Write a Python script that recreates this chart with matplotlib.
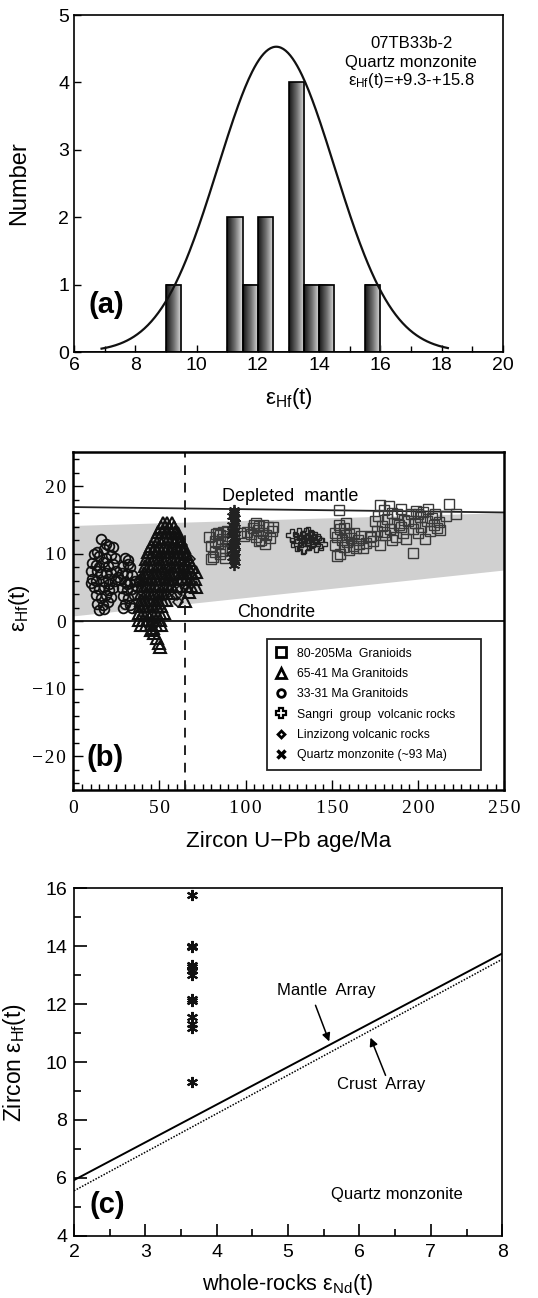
import numpy as np
import matplotlib
matplotlib.use('Agg')
import matplotlib.pyplot as plt
from matplotlib.colors import LinearSegmentedColormap
from matplotlib.lines import Line2D
from matplotlib.ticker import MultipleLocator, FuncFormatter

plt.rcParams['font.family'] = ['Liberation Sans', 'DejaVu Sans']
plt.rcParams['mathtext.fontset'] = 'custom'
plt.rcParams['mathtext.rm'] = 'Liberation Sans'
plt.rcParams['mathtext.it'] = 'Liberation Sans:italic'
plt.rcParams['mathtext.bf'] = 'Liberation Sans:bold'

# ---- data ----
# zircon eHf(t) of quartz monzonite 07TB33b-2 (panel a histogram and panel c)
eps_hf = [9.32, 11.18, 11.33, 11.56, 12.12, 12.18, 13.0, 13.18, 13.3, 13.35,
          13.98, 14.02, 15.77]
fit_mu, fit_sigma, fit_peak = 12.6, 1.9, 4.53
fit_range = (6.9, 18.2)

# panel b: (age Ma, eHf)
granioids_80_205 = [
    (79, 12.4), (80, 11.2), (81, 9.5), (82, 10.2), (83, 12.9), (84, 11.6), (85, 9.9),
    (86, 12.2), (87, 13.2), (88, 10.8), (89, 11.9), (90, 12.6), (91, 10.5), (84, 13.0),
    (82, 11.8), (86, 10.4), (88, 9.3), (80, 9.2), (85, 12.7), (89, 13.3),
    (97, 13.0), (99, 12.6), (101, 13.2), (103, 12.9), (104, 13.8), (105, 14.3),
    (106, 12.4), (107, 13.5), (108, 14.1), (109, 12.0), (110, 13.1), (111, 11.5),
    (112, 12.7), (113, 13.9), (114, 12.3), (115, 13.4), (116, 14.0), (108, 11.9),
    (106, 14.5), (110, 14.2),
    (152, 13.1), (152, 11.3), (153, 12.5), (154, 16.4), (154, 14.3), (155, 10.0),
    (155, 13.6), (156, 12.0), (157, 11.0), (158, 12.8), (158, 14.6), (159, 11.7),
    (160, 10.6), (161, 12.3), (162, 11.2), (163, 13.0), (164, 10.8), (165, 12.0),
    (166, 11.4), (167, 12.6), (168, 10.9), (170, 11.6), (172, 12.4), (174, 11.9),
    (153, 9.6), (160, 12.9), (157, 13.8),
    (173, 12.6), (175, 14.8), (176, 13.4), (177, 15.6), (178, 17.2), (178, 11.3),
    (179, 14.1), (180, 16.4), (181, 12.8), (182, 15.2), (183, 17.0), (184, 13.7),
    (185, 16.0), (186, 14.5), (187, 12.4), (188, 15.8), (189, 14.2), (190, 16.6),
    (191, 13.1), (192, 15.0), (193, 12.2), (194, 14.8), (197, 10.1), (196, 15.9),
    (197, 13.6), (198, 14.6), (199, 16.3), (200, 13.0), (201, 15.4), (202, 14.0),
    (203, 16.1), (204, 12.1), (205, 14.9), (206, 16.6), (207, 13.4), (208, 15.3),
    (209, 14.3), (210, 15.8), (211, 13.8), (212, 14.7), (213, 13.5), (218, 17.4),
    (216, 15.5), (180, 13.2), (185, 12.0), (190, 14.0), (200, 15.9), (222, 15.8),
]

granitoids_65_41 = [
    (52, 14.6), (54.5, 14.6), (57, 14.6),
    (51, 14.0), (53, 14.0), (55.5, 14.0), (58.5, 14.0),
    (49, 13.2), (51.5, 13.2), (54, 13.2), (56.5, 13.2), (59, 13.2), (60.5, 13.0),
    (47.5, 12.2), (50, 12.2), (52.5, 12.2), (55, 12.2), (57.5, 12.2), (60, 12.2), (62, 12.0),
    (45, 11.2), (47.5, 11.2), (50, 11.2), (52.5, 11.2), (55, 11.2), (57.5, 11.2),
    (60, 11.2), (62.5, 11.2), (64, 11.0),
    (43.5, 10.2), (46, 10.2), (48.5, 10.2), (51, 10.2), (53.5, 10.2), (56, 10.2),
    (58.5, 10.2), (61, 10.2), (63.5, 10.2), (65.5, 10.0),
    (42, 9.2), (44.5, 9.2), (47, 9.2), (49.5, 9.2), (52, 9.2), (54.5, 9.2), (57, 9.2),
    (59.5, 9.2), (62, 9.2), (64.5, 9.2), (67, 9.0),
    (41.5, 8.2), (44, 8.2), (46.5, 8.2), (49, 8.2), (51.5, 8.2), (54, 8.2), (56.5, 8.2),
    (59, 8.2), (61.5, 8.2), (64, 8.2), (66.5, 8.2), (69, 8.0),
    (41, 7.2), (43.5, 7.2), (46, 7.2), (48.5, 7.2), (51, 7.2), (53.5, 7.2), (56, 7.2),
    (58.5, 7.2), (61, 7.2), (63.5, 7.2), (66, 7.2), (68.5, 7.2), (71, 7.3),
    (40.5, 6.2), (43, 6.2), (45.5, 6.2), (48, 6.2), (50.5, 6.2), (53, 6.2), (55.5, 6.2),
    (58, 6.2), (60.5, 6.2), (63, 6.2), (65.5, 6.2), (68, 6.2), (70.5, 6.2),
    (40, 5.2), (42.5, 5.2), (45, 5.2), (47.5, 5.2), (50, 5.2), (52.5, 5.2), (55, 5.2),
    (57.5, 5.2), (60, 5.2), (66, 5.2), (68.5, 5.2), (71, 5.0),
    (39.5, 4.2), (42, 4.2), (44.5, 4.2), (47, 4.2), (49.5, 4.2), (52, 4.2), (54.5, 4.2),
    (57, 4.2), (67, 4.3),
    (39, 3.2), (41.5, 3.2), (44, 3.2), (46.5, 3.2), (49, 3.2), (51.5, 3.2), (54, 3.2),
    (65, 3.0),
    (38.5, 2.2), (41, 2.2), (43.5, 2.2), (46, 2.2), (48.5, 2.2), (51, 2.2),
    (38, 1.2), (40.5, 1.2), (43, 1.2), (45.5, 1.2), (48, 1.2), (50.5, 1.2), (52.5, 1.2),
    (38, 0.2), (40.5, 0.2), (43, 0.2), (45.5, 0.2), (48, 0.2), (50.5, 0.2),
    (39, -0.6), (42, -0.6), (45, -0.6), (48, -0.6), (51, -0.6),
    (45, -1.3), (47, -1.8), (48.5, -2.5), (49.5, -3.2), (50.5, -3.9), (46.5, -1.0),
]

granitoids_33_31 = [
    (16, 12.2), (14, 10.3), (18, 10.7), (21, 11.2), (23, 11.0), (12, 9.9), (15, 9.6),
    (19, 9.3), (22, 9.8), (24, 9.4), (11, 8.6), (13, 8.3), (17, 8.7), (20, 8.1),
    (23, 8.4), (10, 7.4), (14, 7.5), (16, 7.0), (19, 7.2), (22, 7.1), (25, 7.5),
    (11, 6.2), (13, 5.9), (17, 6.0), (20, 6.3), (24, 5.9), (12, 5.0), (15, 4.7),
    (18, 5.1), (21, 4.6), (23, 4.9), (13, 3.8), (16, 3.5), (19, 3.9), (22, 3.6),
    (14, 2.6), (17, 2.4), (20, 2.8), (15, 1.6), (18, 1.8), (26, 6.6), (10, 5.6),
    (19, 11.5), (15, 8.0), (21, 5.5),
    (30, 9.4), (32, 9.0), (29, 8.2), (33, 8.0), (28, 7.2), (31, 7.0), (34, 6.8),
    (27, 6.1), (30, 5.8), (33, 5.6), (36, 6.0), (38, 5.9), (28, 4.9), (31, 4.6),
    (34, 4.8), (37, 5.0), (29, 3.7), (32, 3.4), (35, 3.8), (30, 2.6), (33, 2.4),
    (29, 1.9), (34, 2.0), (32, 8.5), (31, 5.5), (39, 6.3),
]

sangri_volcanics = [
    (127, 12.7), (129, 12.0), (130, 11.3), (131, 12.9), (132, 11.8), (133, 12.4),
    (134, 11.0), (135, 12.9), (136, 12.1), (137, 11.5), (138, 12.6), (139, 11.9),
    (140, 12.3), (141, 11.2), (142, 12.0), (144, 11.4), (136, 13.1), (133, 10.8),
]

linzizong_volcanics = [
    (60, 3.9), (62, 4.6), (64, 8.0), (58, 5.6), (55, 7.8), (50, 9.5), (63, 11.3),
    (66, 6.0), (57, 10.2), (61, 2.9), (52, 6.2), (68, 9.2), (59, 12.1), (54, 3.8),
]

quartz_monzonite_b = [
    (93, 16.5), (93, 15.9), (94, 15.3), (93, 14.8), (92, 14.3), (93, 13.9), (94, 13.5),
    (93, 13.1), (92, 12.7), (93, 12.3), (94, 11.9), (93, 11.5), (92, 11.1), (93, 10.7),
    (94, 10.3), (93, 9.9), (92, 9.5), (93, 9.1), (94, 8.7), (93, 8.3), (93, 16.1),
    (94, 14.6), (92, 13.3), (94, 12.5), (92, 10.5), (93, 9.4), (94, 11.2), (92, 15.6),
]

depleted_mantle = ([0, 250], [16.9, 16.1])
crust_band = ([0, 250, 250, 0], [14.1, 16.0, 7.5, 0.7])
boundary_age = 65

# panel c
wr_end = 3.66
mantle_array = ([2, 8], [5.92, 13.75])
crust_array = ([2, 8], [5.55, 13.55])

EHF = 'ε$_{\\mathrm{Hf}}$(t)'
ENd = 'ε$_{\\mathrm{Nd}}$(t)'

fig = plt.figure(figsize=(5.38, 12.98), dpi=100)
axa = fig.add_axes([0.1375, 0.7288, 0.7975, 0.2596])
axb = fig.add_axes([0.1362, 0.3914, 0.801, 0.2601])
axc = fig.add_axes([0.1375, 0.048, 0.796, 0.2676])

# ---------- (a) ----------
counts, edges, patches = axa.hist(eps_hf, bins=np.arange(6, 20.01, 0.5),
                                  facecolor='none', edgecolor='k', lw=1.2, zorder=3)
grad = np.linspace(0, 1, 64).reshape(1, -1)
cmap = LinearSegmentedColormap.from_list('bar', ['#151515', '#707070', '#e4e4e4'])
for p in patches:
    if p.get_height() > 0:
        x0, w, h = p.get_x(), p.get_width(), p.get_height()
        axa.imshow(grad, cmap=cmap, extent=(x0, x0 + w, 0, h), aspect='auto', zorder=2)
xf = np.linspace(fit_range[0], fit_range[1], 300)
axa.plot(xf, fit_peak * np.exp(-(xf - fit_mu) ** 2 / (2 * fit_sigma ** 2)), color='#111111',
         lw=1.6, zorder=4)
axa.set_xlim(6, 20)
axa.set_ylim(0, 5)
axa.set_xticks(range(6, 21, 2))
axa.xaxis.set_minor_locator(MultipleLocator(1))
axa.set_yticks(range(0, 6))
axa.tick_params(which='both', direction='in', labelsize=14, width=1.0)
axa.tick_params(which='major', length=5)
axa.tick_params(which='minor', length=4)
axa.set_xlabel(EHF, fontsize=16)
axa.set_ylabel('Number', fontsize=17)
axa.xaxis.set_label_coords(0.5, -0.1)
axa.yaxis.set_label_coords(-0.103, 0.5)
axa.text(17.0, 4.58, '07TB33b-2', ha='center', va='center', fontsize=12)
axa.text(17.0, 4.30, 'Quartz monzonite', ha='center', va='center', fontsize=12)
axa.text(17.0, 4.03, 'ε$_{\\mathrm{Hf}}$(t)=+9.3-+15.8', ha='center', va='center', fontsize=12)
axa.text(7.05, 0.70, '(a)', ha='center', va='center', fontsize=21, fontweight='bold')
for s in axa.spines.values():
    s.set_linewidth(1.2)

# ---------- (b) ----------
axb.fill(crust_band[0], crust_band[1], color='#d0d0d0', lw=0, zorder=1)
axb.plot(depleted_mantle[0], depleted_mantle[1], color='#222222', lw=1.3, zorder=2)
axb.axhline(0, color='#111111', lw=1.3, zorder=2)
axb.axvline(boundary_age, color='#222222', lw=1.4, ls=(0, (5, 4)), zorder=2)

mk = dict(ls='none', mfc='none', zorder=3)
g = np.array(granioids_80_205)
axb.plot(g[:, 0], g[:, 1], marker='s', ms=7.5, mec='#3a3a3a', mew=1.0, **mk)
g = np.array(granitoids_33_31)
axb.plot(g[:, 0], g[:, 1], marker='o', ms=7, mec='#111111', mew=1.3, **mk)
g = np.array(granitoids_65_41)
axb.plot(g[:, 0], g[:, 1], marker='^', ms=8.5, mec='#111111', mew=1.5, **mk)
g = np.array(linzizong_volcanics)
axb.plot(g[:, 0], g[:, 1], marker='D', ms=5, mec='#111111', mew=1.1, **mk)
g = np.array(sangri_volcanics)
axb.plot(g[:, 0], g[:, 1], marker='P', ms=8, mec='#222222', mew=1.0, **mk)
g = np.array(quartz_monzonite_b)
axb.plot(g[:, 0], g[:, 1], marker=(6, 2, 0), ms=8, mec='#222222', mew=1.3, **mk)

axb.set_xlim(0, 250)
axb.set_ylim(-25, 25)
axb.set_xticks(range(0, 251, 50))
axb.xaxis.set_minor_locator(MultipleLocator(5))
axb.set_yticks([-20, -10, 0, 10, 20])
axb.yaxis.set_minor_locator(MultipleLocator(2))


def spaced(v, pos):
    s = '%d' % v
    return '\u200a'.join(s.replace('-', '\u2212'))


axb.xaxis.set_major_formatter(FuncFormatter(spaced))
axb.yaxis.set_major_formatter(FuncFormatter(spaced))
axb.tick_params(which='both', direction='in', labelsize=14, width=1.0, top=False, right=False)
axb.tick_params(which='major', length=7)
axb.tick_params(which='minor', length=4)
axb.tick_params(axis='x', pad=7)
axb.tick_params(axis='y', pad=5)
for lab in axb.get_xticklabels() + axb.get_yticklabels():
    lab.set_fontfamily(['Liberation Serif', 'DejaVu Serif'])
axb.set_ylabel(EHF, fontsize=16)
axb.set_xlabel('Zircon U\u2212Pb age/Ma', fontsize=16)
axb.xaxis.set_label_coords(0.5, -0.121)
axb.yaxis.set_label_coords(-0.096, 0.539)
axb.text(126, 18.4, 'Depleted  mantle', ha='center', va='center', fontsize=13)
axb.text(118, 1.3, 'Chondrite', ha='center', va='center', fontsize=13)
axb.text(18.5, -20.3, '(b)', ha='center', va='center', fontsize=21, fontweight='bold')
for s in axb.spines.values():
    s.set_linewidth(1.8)

hkw = dict(ls='none', mfc='none', mec='k', mew=2.0)
handles = [Line2D([], [], marker='s', ms=6.5, **hkw),
           Line2D([], [], marker='^', ms=6.5, **hkw),
           Line2D([], [], marker='o', ms=5.5, **hkw),
           Line2D([], [], marker='P', ms=7.5, ls='none', mfc='none', mec='k', mew=1.6),
           Line2D([], [], marker='D', ms=3.5, **hkw),
           Line2D([], [], marker='x', ms=6, ls='none', mec='k', mew=2.5)]
labels = ['80-205Ma  Granioids', '65-41 Ma Granitoids', '33-31 Ma Granitoids',
          'Sangri  group  volcanic rocks', 'Linzizong volcanic rocks',
          'Quartz monzonite (~93 Ma)']
leg = axb.legend(handles, labels, loc='upper left', mode='expand',
                 bbox_to_anchor=(0.449, 0.054, 0.496, 0.393),
                 fontsize=8.8, frameon=True, fancybox=False, framealpha=1,
                 edgecolor='#222222', handlelength=1.0, handletextpad=0.8,
                 labelspacing=0.68, borderpad=0.7, borderaxespad=0)
leg.get_frame().set_linewidth(1.3)

# ---------- (c) ----------
axc.plot(mantle_array[0], mantle_array[1], color='k', lw=1.4, zorder=2)
axc.plot(crust_array[0], crust_array[1], color='k', lw=1.1, ls=(0, (1, 1)), zorder=2)
axc.plot([wr_end] * len(eps_hf), eps_hf, ls='none', marker=(6, 2, 0), ms=8,
         mec='#111111', mew=1.5, zorder=3)
axc.annotate('', xy=(5.59, 10.62), xytext=(5.37, 12.05),
             arrowprops=dict(arrowstyle='-|>', color='k', lw=1.1, mutation_scale=12))
axc.annotate('', xy=(6.14, 10.93), xytext=(6.38, 9.45),
             arrowprops=dict(arrowstyle='-|>', color='k', lw=1.1, mutation_scale=12))
axc.text(5.54, 12.48, 'Mantle  Array', ha='center', va='center', fontsize=12)
axc.text(6.31, 9.24, 'Crust  Array', ha='center', va='center', fontsize=12)
axc.text(6.52, 5.44, 'Quartz monzonite', ha='center', va='center', fontsize=12)
axc.text(2.47, 5.05, '(c)', ha='center', va='center', fontsize=21, fontweight='bold')
axc.set_xlim(2, 8)
axc.set_ylim(4, 16)
axc.xaxis.set_minor_locator(MultipleLocator(0.5))
axc.yaxis.set_minor_locator(MultipleLocator(1))
axc.set_yticks(range(4, 17, 2))
axc.tick_params(which='both', direction='in', labelsize=14, width=1.2)
axc.tick_params(which='major', length=9)
axc.tick_params(which='minor', length=5)
axc.tick_params(axis='x', pad=6)
axc.tick_params(axis='y', pad=5)
axc.set_xlabel('whole-rocks ' + ENd, fontsize=15.5)
axc.set_ylabel('Zircon ' + EHF, fontsize=16.5)
axc.xaxis.set_label_coords(0.5, -0.105)
axc.yaxis.set_label_coords(-0.107, 0.5)
for s in axc.spines.values():
    s.set_linewidth(1.2)

fig.savefig('out.png', dpi=100, facecolor='white')
